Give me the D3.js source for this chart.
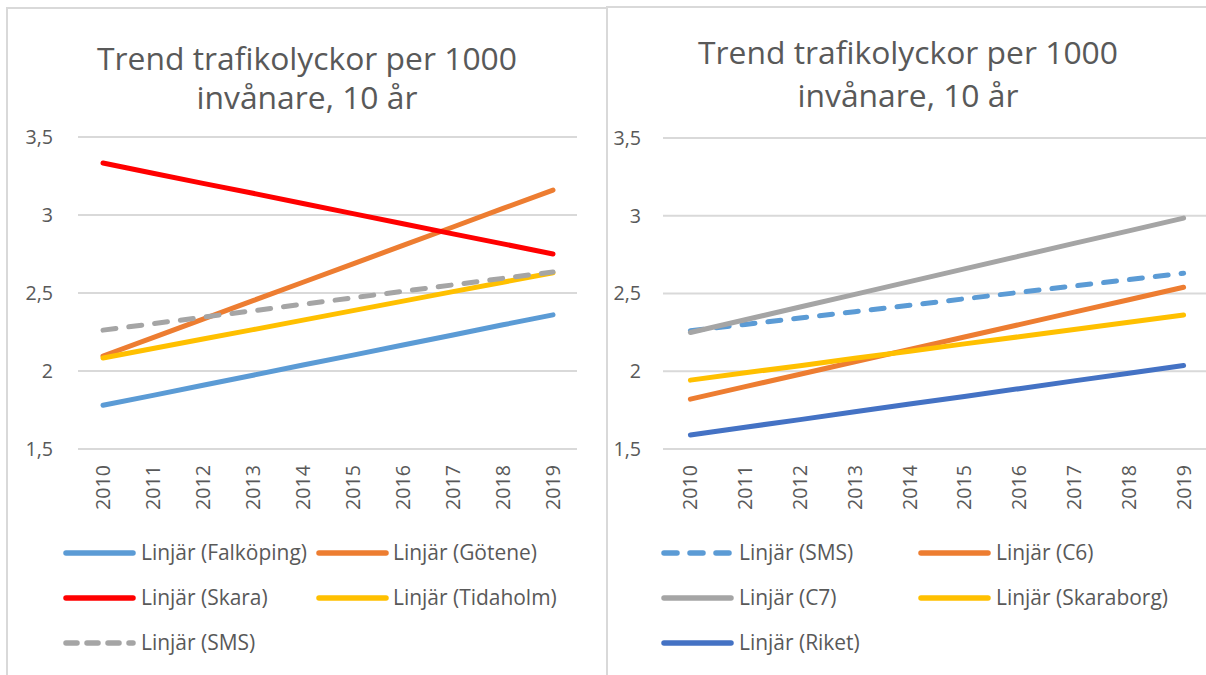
<!DOCTYPE html>
<html>
<head>
<meta charset="utf-8">
<script src="https://cdn.jsdelivr.net/npm/d3@7"></script>
<style>
  html, body { margin: 0; padding: 0; background: #ffffff; }
  svg { display: block; }
  text { font-family: "Open Sans", "DejaVu Sans", sans-serif; fill: #595959; }
</style>
</head>
<body>
<svg id="chart" width="1206" height="675"></svg>
<script>
// ---------------- DATA ----------------
const years = ["2010","2011","2012","2013","2014","2015","2016","2017","2018","2019"];
const yTickValues = [1.5, 2, 2.5, 3, 3.5];
const yTickLabels = ["1,5", "2", "2,5", "3", "3,5"];
const chartTitleLines = ["Trend trafikolyckor per 1000", "invånare, 10 år"];

// Left chart series (linear trend lines)
const leftNames = ["Linjär (Falköping)", "Linjär (Götene)", "Linjär (Skara)", "Linjär (Tidaholm)", "Linjär (SMS)"];
const falkoping = [1.780, 1.844, 1.909, 1.973, 2.038, 2.102, 2.167, 2.231, 2.296, 2.360];
const gotene    = [2.096, 2.214, 2.332, 2.451, 2.569, 2.687, 2.805, 2.923, 3.042, 3.160];
const skara     = [3.333, 3.268, 3.203, 3.139, 3.074, 3.009, 2.944, 2.879, 2.815, 2.750];
const tidaholm  = [2.083, 2.144, 2.205, 2.265, 2.326, 2.387, 2.448, 2.509, 2.569, 2.630];
const smsLeft   = [2.262, 2.303, 2.345, 2.386, 2.428, 2.469, 2.511, 2.552, 2.594, 2.635];

// Right chart series (linear trend lines)
const rightNames = ["Linjär (SMS)", "Linjär (C6)", "Linjär (C7)", "Linjär (Skaraborg)", "Linjär (Riket)"];
const smsRight  = [2.260, 2.301, 2.342, 2.383, 2.424, 2.466, 2.507, 2.548, 2.589, 2.630];
const c6        = [1.821, 1.901, 1.981, 2.061, 2.141, 2.220, 2.300, 2.380, 2.460, 2.540];
const c7        = [2.249, 2.331, 2.413, 2.494, 2.576, 2.658, 2.740, 2.822, 2.903, 2.985];
const skaraborg = [1.943, 1.990, 2.036, 2.083, 2.129, 2.176, 2.222, 2.269, 2.315, 2.362];
const riket     = [1.590, 1.640, 1.689, 1.739, 1.789, 1.838, 1.888, 1.938, 1.987, 2.037];

// ---------------- STYLES ----------------
const leftColors  = ["#5B9BD5", "#ED7D31", "#FF0000", "#FFC000", "#A5A5A5"];
const leftDashed  = [false, false, false, false, true];
const rightColors = ["#5B9BD5", "#ED7D31", "#A5A5A5", "#FFC000", "#4472C4"];
const rightDashed = [true, false, false, false, false];

const svg = d3.select("#chart");
const grid = "#D9D9D9";

// measuring helper: font size so that a string reaches target width
function fitSize(str, target) {
  const t = svg.append("text").attr("font-size", 20).text(str);
  const w = t.node().getComputedTextLength();
  t.remove();
  return 20 * target / w;
}
const titleSize  = fitSize(chartTitleLines[0], 420);
const axisSize   = fitSize("2010", 45);
const legendSize = fitSize("Linjär (Falköping)", 166);

// ---------------- PANEL FRAMES ----------------
svg.append("line").attr("x1", 7).attr("x2", 7).attr("y1", 8).attr("y2", 675)
  .attr("stroke", grid).attr("stroke-width", 2);
svg.append("line").attr("x1", 6).attr("x2", 607).attr("y1", 8).attr("y2", 8)
  .attr("stroke", grid).attr("stroke-width", 2);
svg.append("line").attr("x1", 607).attr("x2", 607).attr("y1", 6).attr("y2", 675)
  .attr("stroke", grid).attr("stroke-width", 2);
svg.append("line").attr("x1", 607).attr("x2", 1206).attr("y1", 7).attr("y2", 7)
  .attr("stroke", grid).attr("stroke-width", 2);

function drawPanel(cfg) {
  const g = svg.append("g");
  const x = d3.scalePoint().domain(years).range([cfg.x0, cfg.x1]).padding(0.5);
  const y = d3.scaleLinear().domain([1.5, 3.5]).range([cfg.yBottom, cfg.yTop]);

  // title
  cfg.titleY.forEach((ty, i) => {
    g.append("text").attr("x", cfg.titleX).attr("y", ty)
      .attr("text-anchor", "middle").attr("font-size", titleSize)
      .text(chartTitleLines[i]);
  });

  // gridlines
  g.selectAll(".grid").data(yTickValues).join("line")
    .attr("x1", cfg.x0).attr("x2", cfg.gridX1)
    .attr("y1", d => y(d)).attr("y2", d => y(d))
    .attr("stroke", grid).attr("stroke-width", 2);

  // y tick labels
  g.selectAll(".ylab").data(yTickValues).join("text")
    .attr("x", cfg.yLabelX).attr("y", d => y(d)).attr("dy", "0.35em")
    .attr("text-anchor", "end").attr("font-size", axisSize)
    .text((d, i) => yTickLabels[i]);

  // x tick labels (rotated)
  g.selectAll(".xlab").data(years).join("text")
    .attr("transform", d => `translate(${x(d)},${cfg.xLabelTop}) rotate(-90)`)
    .attr("dy", "0.36em").attr("text-anchor", "end").attr("font-size", axisSize)
    .text(d => d);

  // lines
  const line = d3.line().x((d, i) => x(years[i])).y(d => y(d));
  cfg.series.forEach((s, i) => {
    g.append("path").datum(s)
      .attr("d", line).attr("fill", "none")
      .attr("stroke", cfg.colors[i]).attr("stroke-width", 5)
      .attr("stroke-linecap", "round").attr("stroke-linejoin", "round")
      .attr("stroke-dasharray", cfg.dashed[i] ? cfg.plotDash : null);
  });

  // legend
  cfg.names.forEach((name, i) => {
    const col = cfg.legendCols[i % 2];
    const ry = cfg.legendRows[Math.floor(i / 2)];
    g.append("line").attr("x1", col.s0).attr("x2", col.s1).attr("y1", ry).attr("y2", ry)
      .attr("stroke", cfg.colors[i]).attr("stroke-width", 5.5)
      .attr("stroke-linecap", "round")
      .attr("stroke-dasharray", cfg.dashed[i] ? cfg.legendDash : null);
    g.append("text").attr("x", col.t).attr("y", ry).attr("dy", "0.35em")
      .attr("font-size", legendSize).text(name);
  });
}

drawPanel({
  x0: 78, x1: 578, gridX1: 577, yTop: 137, yBottom: 449,
  titleX: 307, titleY: [70, 109],
  yLabelX: 53, xLabelTop: 465,
  series: [falkoping, gotene, skara, tidaholm, smsLeft],
  names: leftNames, colors: leftColors, dashed: leftDashed,
  plotDash: "13,13", legendDash: "11,10",
  legendCols: [{s0: 66, s1: 133, t: 141}, {s0: 319, s1: 386, t: 393}],
  legendRows: [553, 598, 643]
});

drawPanel({
  x0: 663, x1: 1211, gridX1: 1206, yTop: 138, yBottom: 449,
  titleX: 908, titleY: [64, 107],
  yLabelX: 641, xLabelTop: 465,
  series: [smsRight, c6, c7, skaraborg, riket],
  names: rightNames, colors: rightColors, dashed: rightDashed,
  plotDash: "13,13", legendDash: "13,13",
  legendCols: [{s0: 664, s1: 731, t: 739}, {s0: 921, s1: 988, t: 996}],
  legendRows: [553, 598, 643]
});
</script>
</body>
</html>
